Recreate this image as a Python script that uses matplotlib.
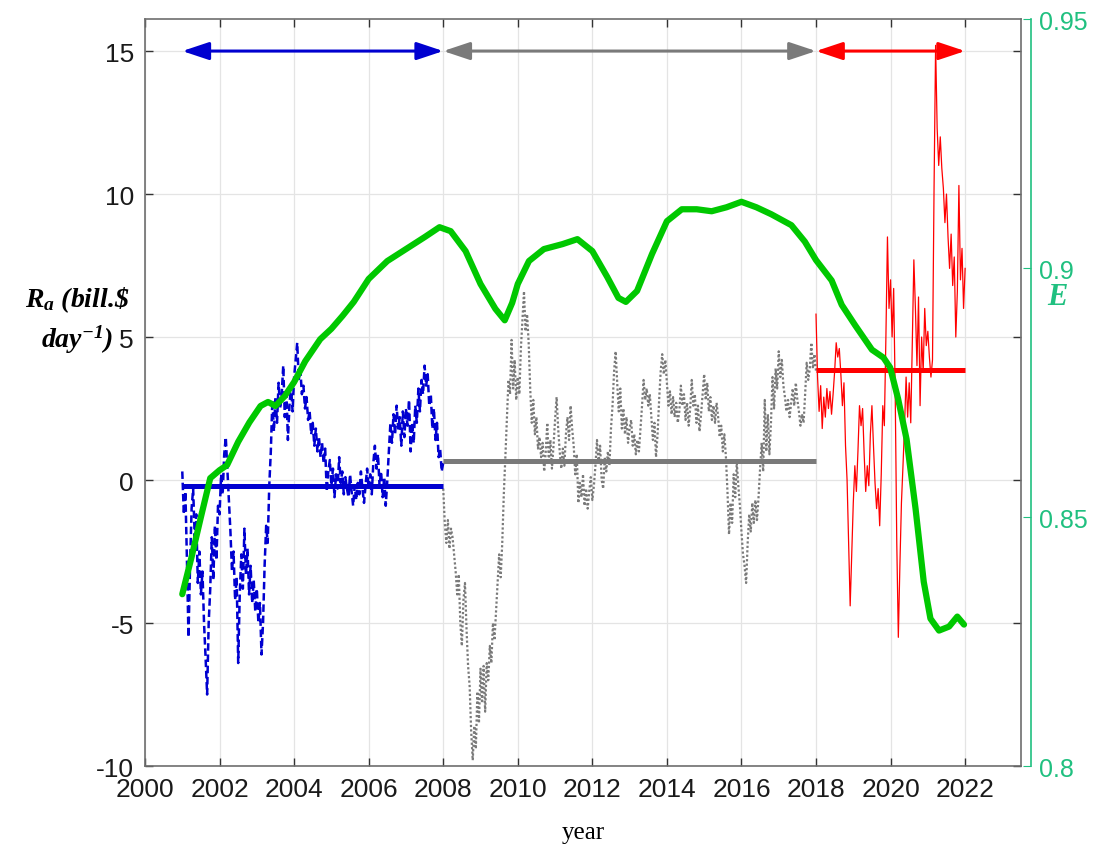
import numpy as np
import matplotlib
import matplotlib.pyplot as plt

matplotlib.use("Agg")

plt.rcParams["font.family"] = ["Liberation Sans", "DejaVu Sans"]
plt.rcParams["font.size"] = 18
plt.rcParams["mathtext.fontset"] = "custom"
plt.rcParams["mathtext.it"] = "Liberation Serif:bold:italic"
plt.rcParams["mathtext.rm"] = "Liberation Serif:bold:italic"
plt.rcParams["mathtext.bf"] = "Liberation Serif:bold:italic"

# half-monthly R_a values, bill.$ per day
blue_vals = [
    0.3, -1.2, -0.4, -2.8, -5.5, -3.0, -1.0, -0.3, -2.0, -1.2, -3.6, -2.5,
    -4.0, -3.2, -5.0, -6.2, -7.5, -5.0, -3.8, -2.0, -3.5, -1.6, -2.8, -0.9,
    -1.2, 0.2, -0.5, 0.9, 1.5, 0.4, -0.7, -1.8, -3.2, -2.5, -4.2, -3.4,
    -6.4, -4.0, -2.6, -3.8, -1.7, -3.3, -2.4, -4.0, -3.0, -4.3, -3.5, -4.6,
    -3.8, -5.0, -4.3, -6.1, -5.0, -3.0, -1.6, -2.2, -0.2, 1.0, 2.8, 1.7,
    2.9, 2.0, 3.4, 2.5, 3.0, 4.0, 2.2, 3.2, 1.4, 2.6, 3.3, 2.4,
    3.6, 4.2, 4.8, 3.5, 3.9, 3.0, 3.3, 2.5, 2.9, 2.1, 2.4, 1.6,
    2.0, 1.2, 1.8, 1.0, 1.5, 0.8, 1.3, 0.6, 1.1, -0.4, 0.3, 0.7,
    -0.2, 0.4, -0.6, 0.2, -0.3, 0.8, -0.1, 0.3, -0.5, 0.1, -0.3, -0.6,
    0.2, -0.4, -0.9, -0.2, -0.7, -0.1, -0.5, 0.3, -0.3, -0.8, -0.2, 0.4,
    -0.3, 0.2, -0.5, 0.6, 1.2, 0.4, 0.9, -0.2, 0.3, -0.6, 0.1, -0.9,
    0.0, 1.0, 2.0, 1.3, 2.3, 1.6, 2.6, 1.8, 2.2, 1.2, 2.4, 1.5,
    2.5, 1.9, 2.8, 1.0, 2.0, 1.3, 2.6, 2.0, 3.2, 2.4, 3.5, 3.0,
    4.0, 3.3, 3.7, 2.6, 3.0, 1.8, 2.5, 1.4, 2.0, 0.8, 1.1, 0.3,
    0.6,
]
gray_vals = [
    -0.3, -1.5, -2.2, -1.4, -2.4, -1.7, -2.0, -2.6, -3.2, -4.0, -3.3, -5.0,
    -5.8, -4.2, -3.6, -5.2, -6.5, -7.2, -8.8, -9.8, -8.6, -9.4, -7.4, -8.5,
    -6.6, -7.8, -6.5, -8.1, -6.4, -7.0, -5.8, -6.4, -5.0, -5.6, -4.6, -3.6,
    -2.6, -3.4, -2.2, -0.5, 0.8, 2.2, 3.5, 3.0, 4.9, 3.2, 4.2, 2.8,
    3.6, 3.0, 4.6, 5.6, 6.6, 5.2, 5.8, 4.8, 3.2, 2.0, 2.8, 1.6,
    2.2, 1.1, 1.5, 0.8, 1.3, 0.3, 1.0, 2.0, 0.6, 1.4, 0.4, 1.2,
    2.1, 2.9, 1.8, 1.0, 0.4, 1.1, 0.5, 1.6, 2.2, 1.4, 2.6, 1.8,
    1.2, 0.2, 0.9, -0.8, -0.1, -0.6, 0.2, -0.9, -0.3, -1.0, -0.4, 0.1,
    -0.7, -0.2, 0.5, 1.4, 0.6, 1.2, 0.0, -0.3, 0.8, 0.3, 1.0, 0.5,
    1.8, 2.6, 3.8, 4.5, 3.4, 2.4, 3.2, 1.8, 2.5, 1.6, 2.2, 1.3,
    1.8, 2.1, 1.2, 1.6, 0.9, 1.4, 1.0, 1.8, 2.6, 3.5, 2.8, 3.2,
    2.6, 3.0, 2.2, 1.4, 2.0, 0.8, 1.6, 2.8, 3.8, 4.4, 3.7, 4.2,
    3.4, 2.6, 3.1, 2.3, 2.9, 2.2, 2.7, 2.0, 2.4, 3.3, 2.6, 3.0,
    2.1, 2.7, 1.9, 2.5, 3.5, 2.6, 3.0, 2.0, 2.6, 1.7, 2.3, 3.0,
    3.7, 2.8, 3.4, 2.4, 2.9, 2.1, 2.6, 2.0, 2.7, 2.2, 1.5, 1.9,
    1.0, 1.6, 0.8, -0.4, -1.9, -0.8, -1.5, 0.2, -0.6, 0.6, -0.2, -0.9,
    -1.8, -2.6, -3.0, -3.6, -2.2, -1.2, -1.8, -0.8, -1.5, -0.7, -1.4, -0.6,
    0.4, 1.3, 0.3, 2.8, 1.0, 2.3, 0.9, 2.0, 3.6, 2.5, 3.9, 3.2,
    4.5, 3.6, 4.2, 3.3, 2.9, 2.4, 2.8, 2.2, 2.7, 3.2, 2.6, 3.4,
    2.8, 2.4, 1.9, 2.3, 2.0, 3.0, 4.1, 3.5, 3.9, 4.8, 3.9, 4.4,
    3.8,
]
red_vals = [
    5.8, 3.6, 2.4, 3.3, 1.8, 2.9, 2.2, 3.2, 2.5, 3.1, 2.3, 3.0,
    3.8, 4.8, 4.3, 4.6, 3.7, 2.6, 3.4, 1.2, 0.0, -2.2, -4.4, -2.6,
    -0.8, 0.5, -0.4, 1.0, 2.6, 1.9, 2.5, 0.9, -0.4, 0.5, -0.2, 1.6,
    2.6, 1.2, -0.1, -1.0, -0.3, -1.6, 0.2, 2.6, 1.9, 5.0, 8.5, 6.0,
    7.0, 5.0, 6.7, 3.0, -2.2, -5.5, -3.0, -0.8, 0.5, 1.9, 3.6, 2.2,
    3.4, 2.0, 4.8, 7.7, 6.0, 4.0, 6.4, 2.6, 5.0, 3.8, 6.0, 4.7,
    5.2, 4.3, 3.6, 4.2, 10.2, 15.2, 12.3, 11.0, 12.0, 10.9, 10.2, 9.0,
    10.0, 8.5, 7.4, 8.6, 6.8, 7.8, 5.0, 6.6, 10.3, 7.0, 8.1, 6.0,
    7.4,
]
periods = [(2001, 2008), (2008, 2018), (2018, 2022)]
period_means = [-0.2, 0.65, 3.85]

# efficiency E, right-hand axis
e_years = [
    2001.00, 2001.25, 2001.50, 2001.75, 2002.00, 2002.20, 2002.50, 2002.80,
    2003.10, 2003.30, 2003.50, 2003.75, 2004.00, 2004.30, 2004.70, 2005.00,
    2005.30, 2005.60, 2006.00, 2006.50, 2007.00, 2007.50, 2007.90, 2008.20,
    2008.60, 2009.00, 2009.40, 2009.65, 2009.85, 2010.00, 2010.30, 2010.70,
    2011.20, 2011.60, 2012.00, 2012.40, 2012.70, 2012.90, 2013.20, 2013.60,
    2014.00, 2014.40, 2014.80, 2015.20, 2015.60, 2016.00, 2016.40, 2016.80,
    2017.34, 2017.70, 2018.00, 2018.42, 2018.69, 2019.05, 2019.50, 2019.81,
    2019.99, 2020.20, 2020.43, 2020.67, 2020.89, 2021.07, 2021.30, 2021.57,
    2021.79, 2021.97,
]
e_vals = [
    0.8345, 0.8420, 0.8500, 0.8578, 0.8594, 0.8604, 0.8651, 0.8690,
    0.8723, 0.8731, 0.8723, 0.8743, 0.8771, 0.8813, 0.8857, 0.8878,
    0.8904, 0.8932, 0.8978, 0.9014, 0.9038, 0.9062, 0.9082, 0.9074,
    0.9034, 0.8968, 0.8918, 0.8895, 0.8930, 0.8968, 0.9014, 0.9038,
    0.9048, 0.9058, 0.9034, 0.8982, 0.8940, 0.8932, 0.8954, 0.9028,
    0.9094, 0.9118, 0.9118, 0.9114, 0.9122, 0.9133, 0.9122, 0.9108,
    0.9086, 0.9053, 0.9016, 0.8975, 0.8926, 0.8885, 0.8836, 0.8820,
    0.8800, 0.8738, 0.8656, 0.8517, 0.8370, 0.8296, 0.8272, 0.8280,
    0.8300, 0.8284,
]

x_ticks = list(range(2000, 2023, 2))
y_ticks = [-10, -5, 0, 5, 10, 15]
e_ticks = [0.8, 0.85, 0.9, 0.95]
e_tick_labels = ["0.8", "0.85", "0.9", "0.95"]

BLUE = "#0000d0"
GRAY = "#7a7a7a"
RED = "#ff0000"
GREEN = "#00c800"
E_AXIS = "#20c080"
SPINE = "#6e6e6e"

fig = plt.figure(figsize=(10.96, 8.45), dpi=100)
ax = fig.add_axes([0.1323, 0.0923, 0.7993, 0.884])
ax2 = ax.twinx()

series = [blue_vals, gray_vals, red_vals]
colors = [BLUE, GRAY, RED]
styles = [dict(linestyle=(0, (3, 1.5)), linewidth=1.8),
          dict(linestyle=(0, (1, 1)), linewidth=1.6),
          dict(linestyle="-", linewidth=0.9)]
for vals, (t0, t1), mean, color, style in zip(series, periods, period_means, colors, styles):
    t = np.linspace(t0, t1, len(vals))
    ax.plot(t, vals, color=color, zorder=2, **style)
    ax.plot([t0, t1], [mean, mean], color=color, linewidth=3.6, solid_capstyle="butt", zorder=3)
    ax.annotate("", xy=(t1, 15), xytext=(t0, 15),
                arrowprops=dict(arrowstyle="<|-|>,head_length=0.9,head_width=0.3",
                                color=color, lw=2.2, shrinkA=0, shrinkB=0), zorder=4)

ax2.plot(e_years, e_vals, color=GREEN, linewidth=4.5, solid_capstyle="round",
         solid_joinstyle="round", zorder=5)

ax.set_xlim(2000, 2023.5)
ax.set_ylim(-10, 16.12)
ax2.set_ylim(0.8, 0.95)
ax.set_xticks(x_ticks)
ax.set_yticks(y_ticks)
ax.set_yticklabels([str(v) for v in y_ticks])
ax2.set_yticks(e_ticks)
ax2.set_yticklabels(e_tick_labels)

ax.grid(True, color="#e4e4e4", linewidth=0.9)
ax.set_axisbelow(True)
ax.tick_params(axis="both", direction="in", length=6, width=1.0, color="#333333",
               labelcolor="#1a1a1a", labelsize=19, top=True, right=True)
ax.tick_params(axis="x", pad=8)
ax.tick_params(axis="y", pad=8)
for side in ("left", "bottom", "top", "right"):
    ax.spines[side].set_color(SPINE)
    ax.spines[side].set_linewidth(1.2)

for side in ("left", "bottom", "top"):
    ax2.spines[side].set_visible(False)
ax2.spines["right"].set_position(("outward", 7))
ax2.spines["right"].set_color(E_AXIS)
ax2.spines["right"].set_linewidth(1.2)
ax2.tick_params(axis="y", direction="in", length=6, color=E_AXIS, labelcolor=E_AXIS,
                labelsize=18, pad=6)

ax.set_xlabel("year", family="Liberation Serif", fontsize=18, labelpad=14)

fig.text(0.070, 0.645, r"$R_a$ (bill.\$", family="Liberation Serif", fontstyle="italic",
         fontweight="bold", fontsize=20, ha="center", va="center")
fig.text(0.070, 0.598, r"day$^{-1}$)", family="Liberation Serif", fontstyle="italic",
         fontweight="bold", fontsize=20, ha="center", va="center")
fig.text(0.965, 0.648, "E", family="Liberation Serif", fontstyle="italic",
         fontweight="bold", fontsize=22, color=E_AXIS, ha="center", va="center")

fig.savefig("out.png", dpi=100)
